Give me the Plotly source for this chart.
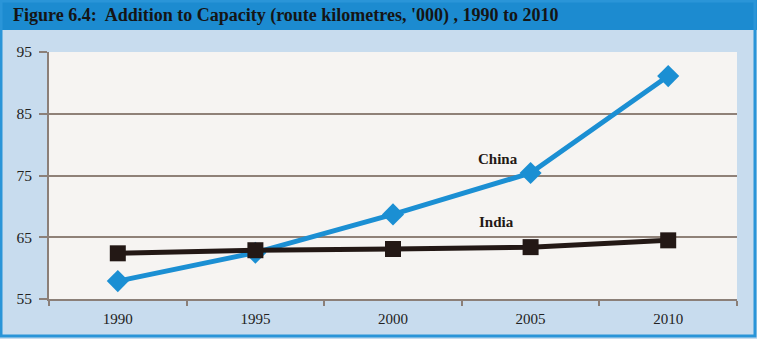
import plotly.graph_objects as go

years = ["1990", "1995", "2000", "2005", "2010"]
china = [57.9, 62.5, 68.7, 75.4, 91.1]
india = [62.4, 62.9, 63.1, 63.4, 64.5]
y_ticks = [55, 65, 75, 85, 95]

W, H = 757, 339
L, R, T, B = 49, 20, 52, 40
pw, ph = W - L - R, H - T - B

def px(x):
    return (x - L) / pw

def py(y):
    return (H - B - y) / ph

fig = go.Figure()
fig.add_trace(go.Scatter(
    x=years, y=china, mode="lines+markers", name="China",
    line=dict(color="#1b8fd3", width=5),
    marker=dict(symbol="diamond", size=17, color="#1b8fd3"),
    cliponaxis=False,
))
fig.add_trace(go.Scatter(
    x=years, y=india, mode="lines+markers", name="India",
    line=dict(color="#231815", width=5),
    marker=dict(symbol="square", size=16, color="#231815"),
    cliponaxis=False,
))

fig.add_annotation(x=2.76, y=77.6, text="<b>China</b>", showarrow=False,
                   font=dict(family="Liberation Serif", size=15, color="#231815"))
fig.add_annotation(x=2.75, y=67.5, text="<b>India</b>", showarrow=False,
                   font=dict(family="Liberation Serif", size=15, color="#231815"))

shapes = [
    dict(type="rect", xref="paper", yref="paper", x0=px(0), x1=px(W), y0=py(30), y1=py(0),
         fillcolor="#1c8bd0", line=dict(width=0), layer="below"),
    dict(type="rect", xref="paper", yref="paper", x0=px(1), x1=px(W - 2), y0=py(H - 3), y1=py(1),
         fillcolor="rgba(0,0,0,0)", line=dict(color="#2a95d8", width=3), layer="above"),
]
fig.add_annotation(xref="paper", yref="paper", x=px(11), y=py(16), xanchor="left", yanchor="middle",
                   text="<b>Figure 6.4:  Addition to Capacity (route kilometres, '000) , 1990 to 2010</b>",
                   showarrow=False, font=dict(family="Liberation Serif", size=18, color="#151515"))

fig.update_layout(
    width=W, height=H,
    margin=dict(l=L, r=R, t=T, b=B, pad=0),
    paper_bgcolor="#c8dcee",
    plot_bgcolor="#f6f4f2",
    showlegend=False,
    shapes=shapes,
    font=dict(family="Liberation Serif", size=15, color="#222222"),
)
fig.update_xaxes(
    type="category", range=[-0.5, 4.5], tickson="boundaries",
    ticks="outside", ticklen=5, tickcolor="#8b7f78", tickwidth=1.5,
    showline=True, linecolor="#8b7f78", linewidth=2, showgrid=False,
    ticklabelstandoff=5,
    tickfont=dict(family="Liberation Serif", size=15, color="#222222"),
)
fig.update_yaxes(
    range=[55, 95], tickvals=y_ticks, ticks="outside", ticklen=8,
    tickcolor="#8b7f78", tickwidth=1.5, showline=True, linecolor="#8b7f78", linewidth=2,
    showgrid=True, gridcolor="#8f8178", gridwidth=1.5, zeroline=False,
    ticklabelstandoff=4,
    tickfont=dict(family="Liberation Serif", size=15.5, color="#222222"),
)

fig.write_html("out.html")
